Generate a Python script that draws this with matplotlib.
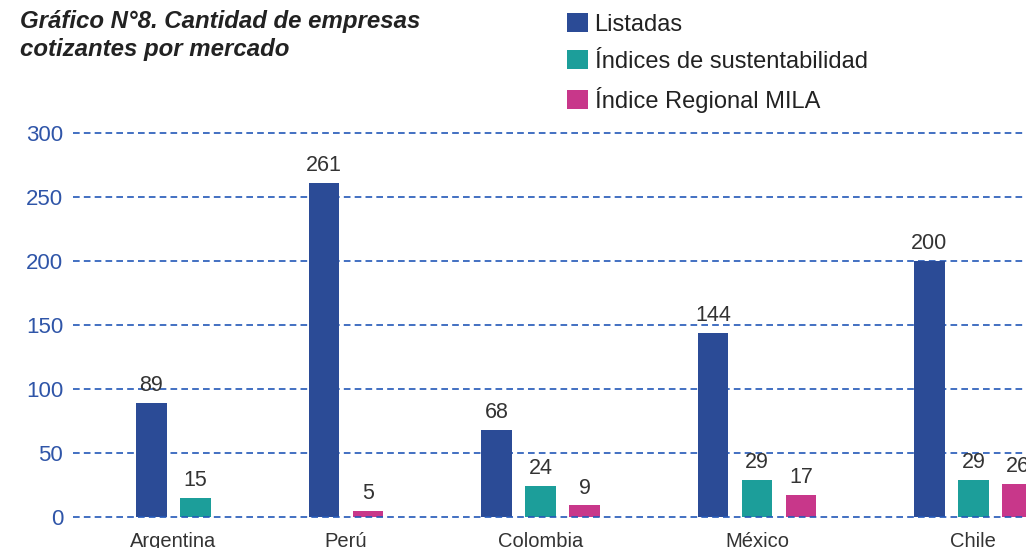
import matplotlib
matplotlib.use('Agg')
import matplotlib.pyplot as plt
from matplotlib.patches import Patch

plt.rcParams['font.family'] = ['Liberation Sans', 'DejaVu Sans']

# data (None = no bar for that series)
countries = ['Argentina', 'Perú', 'Colombia', 'México', 'Chile']
listadas = [89, 261, 68, 144, 200]
sustentabilidad = [15, None, 24, 29, 29]
mila = [None, 5, 9, 17, 26]
series_names = ['Listadas', 'Índices de sustentabilidad', 'Índice Regional MILA']
colors = ['#2b4b96', '#1c9e9a', '#c8378a']
yticks = [0, 50, 100, 150, 200, 250, 300]

grid_color = '#2358b8'
tick_color = '#2f55a8'
text_color = '#333333'

fig = plt.figure(figsize=(10.26, 5.48), dpi=100)
ax = fig.add_axes([73 / 1026, 1 - 517 / 548, 1 - 73 / 1026, (517 - 133) / 548])

# bars are packed: only existing series take a slot, gap between countries
bar_w = 0.7
group_gap = 1.92
x = 0.0
centers = []
for i, country in enumerate(countries):
    vals = [listadas[i], sustentabilidad[i], mila[i]]
    slots = []
    for s, v in enumerate(vals):
        if v is None:
            continue
        b = ax.bar(x, v, width=bar_w, color=colors[s], zorder=3)
        ax.bar_label(b, labels=[str(v)], padding=5, fontsize=15.5, color=text_color)
        slots.append(x)
        x += 1
    centers.append((slots[0] + slots[-1]) / 2)
    x += group_gap

ax.set_xlim(-1.784, 19.875)
ax.set_ylim(0, 300)
ax.set_yticks(yticks)
ax.set_xticks(centers)
ax.set_xticklabels(countries)
ax.tick_params(axis='y', length=0, pad=7, labelsize=16, labelcolor=tick_color)
ax.tick_params(axis='x', length=0, pad=11, labelsize=14.5, labelcolor=text_color)
for sp in ax.spines.values():
    sp.set_visible(False)
# grid behind the bars, but the baseline is drawn on top of them
for t in yticks:
    ax.axhline(t, color=grid_color, linestyle=(0, (4, 2.5)), linewidth=1.2,
               zorder=4 if t == 0 else 2, clip_on=False)

fig.text(20 / 1026, 1 - 10 / 548, 'Gráfico N°8. Cantidad de empresas\ncotizantes por mercado',
         fontsize=17.3, fontweight='bold', fontstyle='italic', color='#222222',
         va='top', ha='left', linespacing=1.3)

handles = [Patch(facecolor=c) for c in colors]
fig.legend(handles, series_names, loc='upper left', bbox_to_anchor=(558 / 1026, 1 - 4 / 548),
           frameon=False, fontsize=17, handlelength=0.85, handleheight=0.85,
           handletextpad=0.3, labelspacing=0.6, borderaxespad=0, labelcolor='#222222')

fig.savefig('out.png', dpi=100)
